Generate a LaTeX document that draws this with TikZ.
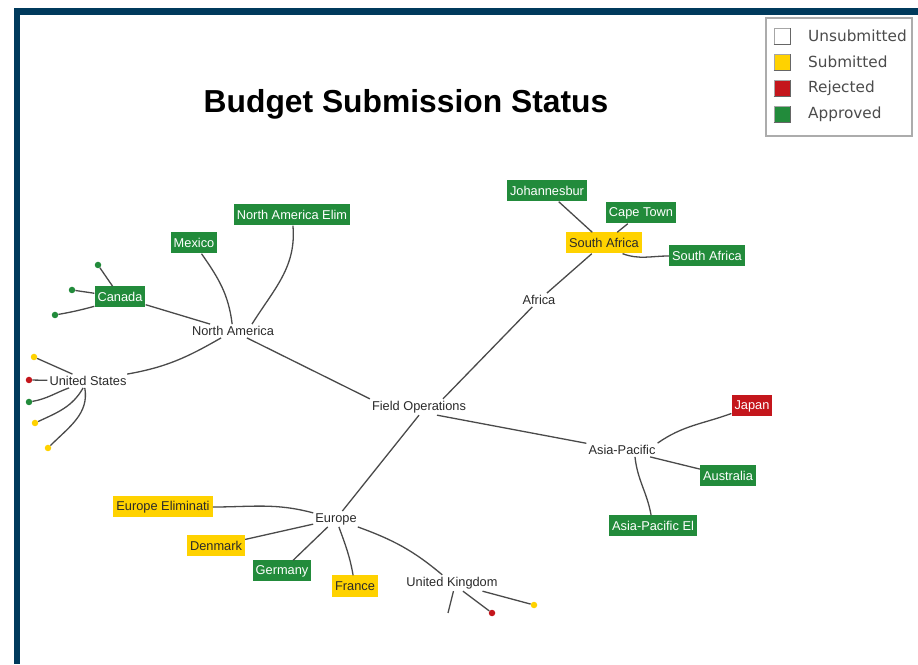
\documentclass[tikz,border=0pt]{standalone}
\usepackage{fontspec}
\setmainfont{Liberation Sans}
\newfontfamily\legfont{DejaVu Sans}
\definecolor{navy}{HTML}{003A5C}
\definecolor{appgreen}{HTML}{228B3B}
\definecolor{subyellow}{HTML}{FFD200}
\definecolor{rejred}{HTML}{C4161C}
\definecolor{linegray}{HTML}{4A4A4A}
\definecolor{txtgray}{HTML}{2A2A2A}
\tikzset{
  lbl/.style={font=\fontsize{12.8}{14}\selectfont, text=txtgray, inner sep=2pt},
  boxbase/.style={font=\fontsize{12.8}{14}\selectfont, inner xsep=3pt, inner ysep=0pt, minimum height=21pt},
  gbox/.style={boxbase, fill=appgreen, text=white},
  ybox/.style={boxbase, fill=subyellow, text=txtgray},
  rbox/.style={boxbase, fill=rejred, text=white},
  dotbase/.style={circle, inner sep=0pt, minimum size=6.5pt},
  gdot/.style={dotbase, fill=appgreen},
  ydot/.style={dotbase, fill=subyellow},
  rdot/.style={dotbase, fill=rejred},
  conn/.style={draw=linegray, line width=1.3pt},
  legsq/.style={minimum size=16pt, inner sep=0pt, draw=gray!70, line width=0.8pt},
  legtxt/.style={font=\legfont\fontsize{15.3}{17}\selectfont, text=black!70, anchor=west, inner sep=0pt},
}
\begin{document}
\begin{tikzpicture}[x=1pt,y=1pt]
\useasboundingbox (0,0) rectangle (918,664);
\fill[white] (0,0) rectangle (918,664);
% frame
\fill[navy] (14,656) rectangle (918,649);
\fill[navy] (14,656) rectangle (20,0);
% title
\node[font=\bfseries\fontsize{31.8}{36}\selectfont, text=black] (title) at (406,560) {Budget Submission Status};
% legend
\draw[gray!65, line width=1.5pt] (766,646) rectangle (912,528);
\node[legsq, fill=white] (lu) at (782,628) {};
\node[legsq, fill=subyellow] (ls) at (782,602) {};
\node[legsq, fill=rejred] (lr) at (782,576) {};
\node[legsq, fill=appgreen] (la) at (782,550) {};
\foreach \s in {lu,ls,lr,la}{
  \draw[black!60, line width=1.4pt] (\s.south west) -- (\s.south east) -- (\s.north east);
}
\node[legtxt] (lut) at (808,628) {Unsubmitted};
\node[legtxt] (lst) at (808,602) {Submitted};
\node[legtxt] (lrt) at (808,576) {Rejected};
\node[legtxt] (lat) at (808,550) {Approved};
% nodes
\node[lbl] (fo) at (419,257) {Field Operations};
\node[lbl] (na) at (233,333) {North America};
\node[gbox] (canada) at (120,367) {Canada};
\node[gbox] (mexico) at (194,421) {Mexico};
\node[gbox] (naelim) at (292,449) {North America Elim};
\node[lbl] (us) at (88,283) {United States};
\node[ydot] (us1) at (34,307) {};
\node[rdot] (us2) at (29,284) {};
\node[gdot] (us3) at (29,262) {};
\node[ydot] (us4) at (35,241) {};
\node[ydot] (us5) at (48,216) {};
\node[gdot] (ca1) at (98,399) {};
\node[gdot] (ca2) at (72,374) {};
\node[gdot] (ca3) at (55,349) {};
\node[lbl] (africa) at (539,364) {Africa};
\node[ybox] (sa) at (604,421) {South Africa};
\node[gbox] (jo) at (547,473) {Johannesbur};
\node[gbox] (ct) at (641,451) {Cape Town};
\node[gbox] (sa2) at (707,408) {South Africa};
\node[lbl] (ap) at (622,214) {Asia-Pacific};
\node[rbox] (japan) at (752,258) {Japan};
\node[gbox] (aus) at (728,188) {Australia};
\node[gbox] (apel) at (653,138) {Asia-Pacific El};
\node[lbl] (eu) at (336,145) {Europe};
\node[ybox] (euel) at (163,157) {Europe Eliminati};
\node[ybox] (dk) at (216,118) {Denmark};
\node[gbox] (de) at (282,93) {Germany};
\node[ybox] (fr) at (355,78) {France};
\node[lbl] (uk) at (452,81) {United Kingdom};
\coordinate (uk1) at (448,51);
\node[rdot] (uk2) at (492,51) {};
\node[ydot] (uk3) at (534,59) {};
% connectors
\draw[conn] (fo.north west) -- (na);
\draw[conn] ([xshift=24pt]fo.north) -- (africa);
\draw[conn] ([xshift=18pt]fo.south) -- (ap);
\draw[conn] (fo.south) -- (eu);
\draw[conn] (na) -- (canada);
\draw[conn] (na) to[out=97,in=-55] (mexico);
\draw[conn] ([xshift=19pt]na.north) to[out=58,in=-85] (naelim);
\draw[conn] (na) to[out=-150,in=10] (us);
\draw[conn] (us) -- (us1);
\draw[conn] (us) -- (us2);
\draw[conn] (us.200) to[out=-160,in=10] (us3);
\draw[conn] (us.-125) to[out=-120,in=25] (us4);
\draw[conn] (us.-115) to[out=-80,in=45] (us5);
\draw[conn] (canada) -- (ca1);
\draw[conn] (canada) -- (ca2);
\draw[conn] (canada.200) to[out=-165,in=10] (ca3);
\draw[conn] (africa) -- (sa);
\draw[conn] (sa) -- (jo);
\draw[conn] (sa) -- (ct);
\draw[conn] (sa.-30) to[out=-20,in=180] (sa2);
\draw[conn] (ap.north east) to[out=35,in=200] (japan);
\draw[conn] (ap) -- (aus);
\draw[conn] ([xshift=13pt]ap.south) to[out=-84,in=100] (apel);
\draw[conn] (eu) to[out=165,in=0] (euel);
\draw[conn] (eu) -- (dk);
\draw[conn] (eu) -- (de);
\draw[conn] (eu) to[out=-70,in=100] (fr);
\draw[conn] (eu) to[out=-20,in=140] (uk);
\draw[conn] (uk.-80) -- (uk1);
\draw[conn] (uk) -- (uk2);
\draw[conn] (uk.-15) -- (uk3);
\end{tikzpicture}
\end{document}
